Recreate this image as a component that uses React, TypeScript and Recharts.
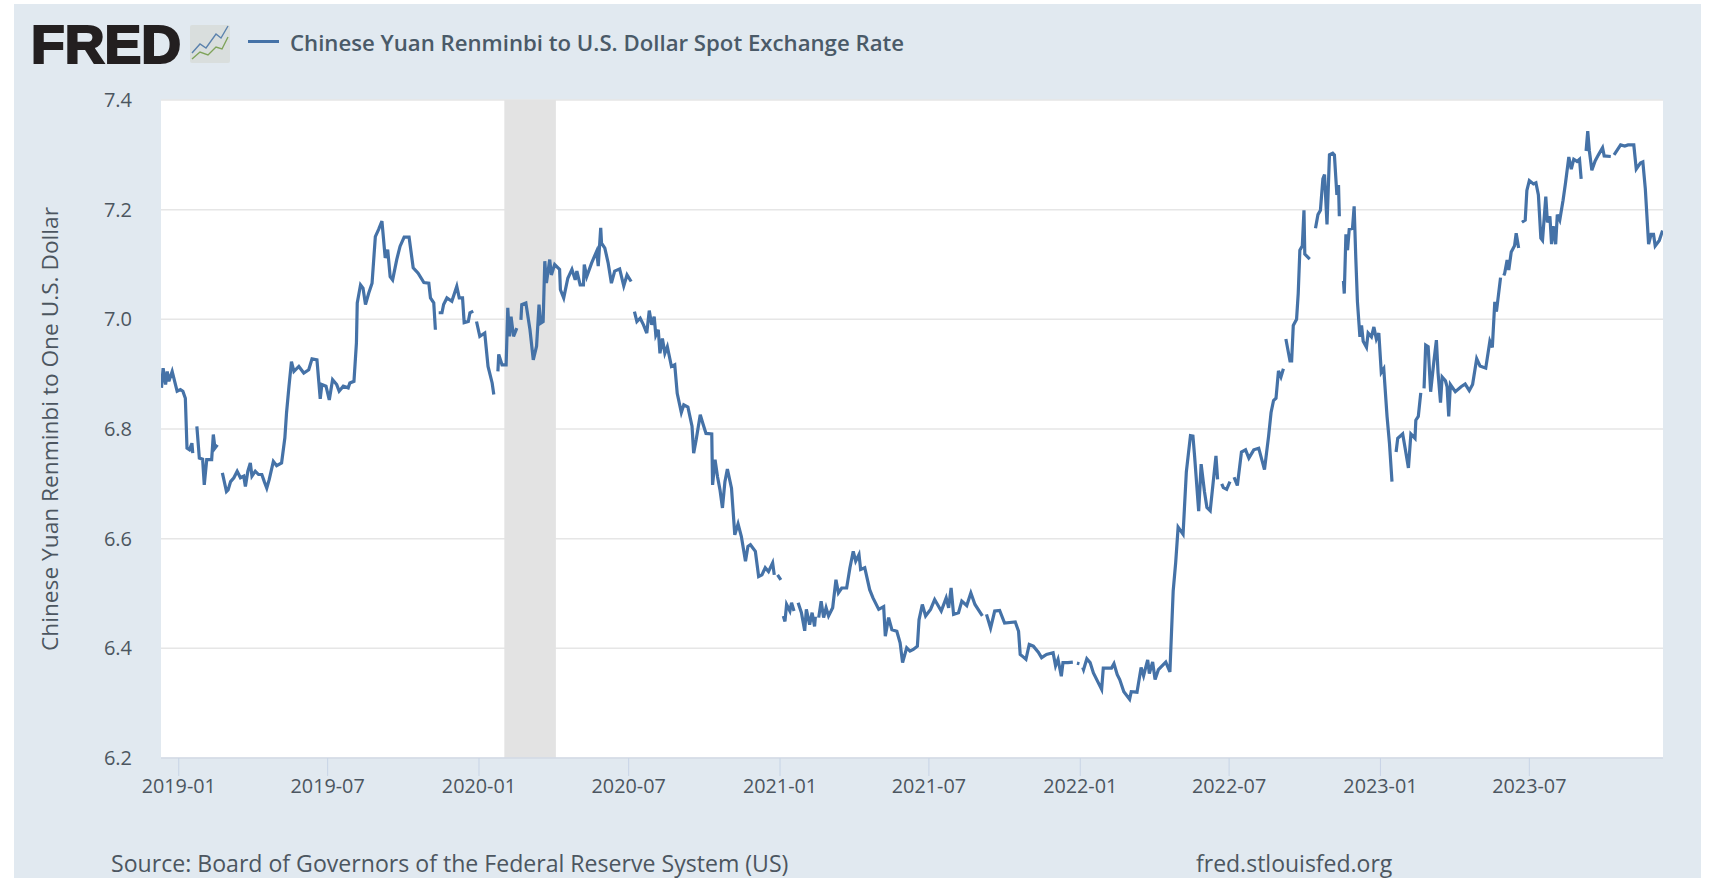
import { LineChart, Line, XAxis, YAxis, CartesianGrid, ReferenceArea } from "recharts";

// [days since 2019-01-01, yuan per dollar]; null rate = no quote that day
const rates2019: [number, number | null][] = [
  [-21, 6.875], [-19, 6.911], [-16, 6.881], [-14, 6.905], [-12, 6.887], [-8, 6.905], [-4, 6.881], [-2, 6.869],
  [2, 6.872], [5, 6.869], [8, 6.856], [10, 6.765], [13, 6.762], [16, 6.774], [17, 6.756], [20, null],
  [22, 6.805], [25, 6.747], [29, 6.745], [31, 6.698], [34, 6.744], [40, 6.744], [42, 6.79], [44, 6.765], [47, 6.771], [50, null],
  [53, 6.72], [58, 6.686], [60, 6.689], [63, 6.704], [67, 6.711], [71, 6.723], [75, 6.711], [79, 6.714], [81, 6.695],
  [84, 6.723], [87, 6.738], [89, 6.714], [93, 6.723], [97, 6.717], [101, 6.717], [104, 6.704], [107, 6.692], [110, 6.708],
  [115, 6.741], [119, 6.733], [125, 6.738], [129, 6.784], [131, 6.829], [134, 6.878], [137, 6.923], [140, 6.905],
  [146, 6.914], [152, 6.902], [158, 6.908], [162, 6.928], [168, 6.926], [172, 6.855], [174, 6.881], [179, 6.878],
  [183, 6.853], [187, 6.89], [192, 6.881], [195, 6.869], [200, 6.878], [206, 6.875], [208, 6.884], [213, 6.887],
  [216, 6.957], [217, 7.03], [221, 7.063], [224, 7.057], [227, 7.027], [231, 7.048], [235, 7.066], [239, 7.151],
  [243, 7.164], [247, 7.179], [251, 7.112], [254, 7.127], [257, 7.078], [260, 7.072], [265, 7.109], [269, 7.133],
  [274, 7.15], [280, 7.15], [285, 7.094], [291, 7.084], [298, 7.067], [304, 7.066], [306, 7.039], [310, 7.03], [312, 6.981], [314, null],
  [316, 7.012], [320, 7.012], [322, 7.027], [326, 7.039], [332, 7.033], [338, 7.06], [341, 7.039], [345, 7.039],
  [347, 6.994], [352, 6.996], [354, 7.012], [358, 7.015], [360, null], [362, 6.996],
];

const rates2020: [number, number | null][] = [
  [366, 6.969], [372, 6.975], [376, 6.914], [381, 6.884], [383, 6.863], [385, null], [388, 6.905], [389, 6.936],
  [393, 6.917], [398, 6.917], [400, 7.021], [402, 6.969], [404, 7.005], [407, 6.969], [411, 6.984], [413, null],
  [416, 6.999], [417, 7.027], [422, 7.03], [427, 6.981], [431, 6.926], [435, 6.951], [438, 7.027], [440, 6.993],
  [443, 6.996], [445, 7.106], [447, 7.066], [451, 7.109], [453, 7.081], [457, 7.1], [463, 7.091], [464, 7.054],
  [468, 7.039], [473, 7.075], [478, 7.091], [482, 7.072], [484, 7.088], [488, 7.063], [492, 7.063], [493, 7.1],
  [496, 7.078], [502, 7.103], [508, 7.124], [510, 7.097], [513, 7.167], [514, 7.139], [518, 7.13], [522, 7.103],
  [526, 7.066], [530, 7.088], [536, 7.092], [541, 7.061], [545, 7.081], [550, 7.069], [552, null],
  [554, 7.014], [557, 6.996], [561, 7.002], [565, 6.99], [569, 6.975], [572, 7.016], [575, 6.99], [578, 7.005],
  [580, 6.971], [583, 6.981], [585, 6.938], [588, 6.965], [591, 6.938], [594, 6.95], [599, 6.914], [603, 6.917],
  [606, 6.865], [611, 6.83], [614, 6.844], [619, 6.84], [624, 6.805], [626, 6.756], [629, 6.78], [634, 6.826],
  [637, 6.811], [641, 6.792], [648, 6.791], [649, 6.698], [652, 6.744], [655, 6.713], [658, 6.689], [661, 6.656],
  [664, 6.704], [667, 6.727], [672, 6.692], [676, 6.607], [680, 6.627], [684, 6.604], [689, 6.559], [692, 6.586],
  [695, 6.589], [701, 6.577], [705, 6.531], [709, 6.534], [713, 6.547], [717, 6.54], [722, 6.556], [724, 6.534], [726, null],
  [728, 6.534],
];

const rates2021: [number, number | null][] = [
  [732, 6.525], [733, null], [735, 6.459], [737, 6.449], [739, 6.48], [743, 6.468], [745, 6.483], [748, 6.468], [750, null],
  [753, 6.483], [757, 6.465], [761, 6.432], [763, 6.471], [767, 6.443], [770, 6.465], [773, 6.44], [774, 6.458], [776, null],
  [778, 6.456], [781, 6.486], [784, 6.456], [787, 6.474], [790, 6.459], [795, 6.474], [799, 6.525], [802, 6.501],
  [806, 6.51], [812, 6.51], [816, 6.547], [820, 6.577], [823, 6.559], [827, 6.571], [829, 6.544], [834, 6.547],
  [840, 6.507], [844, 6.492], [851, 6.471], [857, 6.476], [859, 6.422], [863, 6.456], [867, 6.434], [873, 6.431],
  [877, 6.41], [880, 6.374], [885, 6.401], [889, 6.395], [893, 6.398], [898, 6.404], [900, 6.452], [904, 6.48],
  [908, 6.459], [914, 6.471], [919, 6.489], [927, 6.468], [933, 6.492], [936, 6.474], [939, 6.51], [942, 6.462],
  [948, 6.465], [952, 6.486], [958, 6.478], [963, 6.501], [968, 6.48], [977, 6.459], [980, null], [982, 6.462],
  [987, 6.437], [992, 6.468], [998, 6.469], [1004, 6.446], [1017, 6.448], [1021, 6.431], [1023, 6.389], [1027, 6.384],
  [1030, 6.38], [1034, 6.407], [1039, 6.404], [1045, 6.393], [1049, 6.383], [1055, 6.389], [1063, 6.392], [1066, 6.368],
  [1069, 6.38], [1073, 6.349], [1075, 6.374], [1081, 6.374], [1087, 6.375], [1089, null], [1092, 6.373], [1095, 6.372],
];

const rates2022: [number, number | null][] = [
  [1097, null], [1099, 6.365], [1100, 6.361], [1104, 6.381], [1108, 6.374], [1112, 6.355], [1122, 6.325], [1124, 6.364], [1134, 6.364],
  [1137, 6.372], [1141, 6.352], [1144, 6.343], [1149, 6.321], [1156, 6.307], [1158, 6.321], [1165, 6.32], [1170, 6.365],
  [1173, 6.35], [1178, 6.379], [1180, 6.354], [1184, 6.375], [1187, 6.343], [1191, 6.361], [1200, 6.375], [1205, 6.357],
  [1209, 6.505], [1212, 6.556], [1215, 6.621], [1221, 6.608], [1225, 6.722], [1230, 6.788], [1233, 6.787], [1235, 6.751],
  [1240, 6.65], [1243, 6.736], [1247, 6.686], [1250, 6.657], [1254, 6.651], [1261, 6.751], [1263, 6.708], [1265, null],
  [1268, 6.7], [1270, 6.693], [1274, 6.69], [1278, 6.704], [1280, null], [1283, 6.712], [1287, 6.697], [1292, 6.758], [1297, 6.762],
  [1301, 6.747], [1307, 6.762], [1313, 6.765], [1320, 6.726], [1325, 6.787], [1328, 6.83], [1331, 6.852], [1334, 6.856],
  [1337, 6.906], [1340, 6.895], [1343, 6.91], [1345, null], [1346, 6.964], [1351, 6.924], [1353, 6.924], [1355, 6.989],
  [1359, 7.0], [1361, 7.047], [1363, 7.126], [1366, 7.134], [1368, 7.199], [1369, 7.119], [1375, 7.11], [1378, null],
  [1382, 7.166], [1385, 7.191], [1388, 7.199], [1391, 7.256], [1393, 7.264], [1396, 7.173], [1399, 7.3], [1403, 7.303],
  [1405, 7.3], [1408, 7.227], [1410, 7.245], [1411, 7.188], [1413, null], [1416, 7.07], [1417, 7.047], [1419, 7.155],
  [1421, 7.126], [1423, 7.164], [1427, 7.166], [1429, 7.206], [1431, 7.112], [1433, 7.032], [1436, 6.968], [1438, 6.989],
  [1440, 6.96], [1444, 6.949], [1446, 6.975], [1450, 6.968], [1453, 6.986], [1456, 6.964], [1459, 6.975],
];

const rates2023: [number, number | null][] = [
  [1462, 6.903], [1465, 6.91], [1469, 6.823], [1472, 6.773], [1475, 6.704], [1477, null], [1480, 6.758], [1482, 6.783],
  [1488, 6.791], [1491, 6.765], [1495, 6.729], [1498, 6.791], [1503, 6.783], [1504, 6.816], [1507, 6.823], [1510, 6.866], [1511, null],
  [1514, 6.874], [1516, 6.953], [1519, 6.95], [1522, 6.868], [1526, 6.924], [1529, 6.962], [1531, 6.903], [1534, 6.848],
  [1536, 6.895], [1540, 6.888], [1542, 6.877], [1544, 6.823], [1546, 6.881], [1552, 6.868], [1559, 6.877], [1564, 6.882],
  [1569, 6.87], [1573, 6.881], [1578, 6.928], [1582, 6.915], [1589, 6.911], [1594, 6.96], [1597, 6.949], [1600, 7.032],
  [1602, 7.014], [1607, 7.076], [1609, null], [1611, 7.08], [1612, 7.084], [1615, 7.108], [1617, 7.09], [1620, 7.123], [1624, 7.134],
  [1626, 7.157], [1629, 7.13], [1631, null], [1633, 7.177], [1637, 7.181], [1639, 7.235], [1642, 7.253], [1647, 7.247],
  [1650, 7.249], [1653, 7.227], [1656, 7.148], [1658, 7.144], [1662, 7.224], [1664, 7.177], [1667, 7.188], [1669, 7.137],
  [1671, 7.17], [1674, 7.137], [1676, 7.191], [1679, 7.181], [1683, 7.217], [1686, 7.249], [1690, 7.296], [1693, 7.274],
  [1696, 7.292], [1700, 7.288], [1703, 7.292], [1705, 7.256], [1707, null], [1711, 7.307], [1713, 7.343], [1715, 7.307],
  [1718, 7.272], [1722, 7.289], [1726, 7.3], [1731, 7.313], [1733, 7.298], [1741, 7.297], [1743, null], [1745, 7.3],
  [1753, 7.318], [1758, 7.316], [1762, 7.318], [1769, 7.318], [1772, 7.274], [1777, 7.285], [1780, 7.287], [1783, 7.238],
  [1787, 7.137], [1790, 7.155], [1793, 7.155], [1795, 7.134], [1800, 7.144], [1804, 7.162],
];

const tickDates = ["2019-01", "2019-07", "2020-01", "2020-07", "2021-01", "2021-07", "2022-01", "2022-07", "2023-01", "2023-07"];
const rateTicks = [6.2, 6.4, 6.6, 6.8, 7.0, 7.2, 7.4];

const DAY = 86400000;
const toTime = (day: number) => Date.UTC(2019, 0, 1) + day * DAY;

const data = [...rates2019, ...rates2020, ...rates2021, ...rates2022, ...rates2023].map(([day, rate]) => ({
  time: toTime(day),
  rate,
}));

const xTicks = tickDates.map((d) => Date.parse(d + "-01T00:00:00Z"));
const fmtMonth = (t: number) => new Date(t).toISOString().slice(0, 7);

const FONT = "'Open Sans', sans-serif";
const TEXT = "#4c5660";

function Header() {
  return (
    <>
      <svg width={240} height={70} style={{ position: "absolute", left: 28, top: 14 }}>
        <text x={3} y={49} fontFamily="'Liberation Sans', Arial, sans-serif" fontWeight={700} fontSize={53}
          fill="#231f20" stroke="#231f20" strokeWidth={2.2} textLength={150} lengthAdjust="spacingAndGlyphs">
          FRED
        </text>
        <rect x={162} y={11} width={40} height={38} rx={2} fill="#d9dedd" />
        <polyline points="164,39 172,30 178,34 188,20 193,24 200,12" fill="none" stroke="#5b82ad" strokeWidth={1.4} />
        <polyline points="164,45 172,38 180,41 188,33 194,35 200,23" fill="none" stroke="#7fa35a" strokeWidth={1.4} />
      </svg>
      <div style={{ position: "absolute", left: 248, top: 40, width: 31, height: 3, background: "#4572a7" }} />
      <div style={{ position: "absolute", left: 290, top: 27, fontFamily: FONT, fontSize: 22.2, fontWeight: 600, color: "#4a5a68", whiteSpace: "nowrap" }}>
        Chinese Yuan Renminbi to U.S. Dollar Spot Exchange Rate
      </div>
    </>
  );
}

export default function App() {
  return (
    <div style={{ position: "absolute", left: 0, top: 0, width: 1714, height: 878, overflow: "hidden", background: "#fff" }}>
      <div style={{ position: "absolute", left: 14, top: 4, width: 1687, height: 874, background: "#e1e9f0" }} />
      <Header />
      <div style={{ position: "absolute", left: 0, top: 0 }}>
        <LineChart width={1714} height={878} data={data} margin={{ top: 100, right: 51, bottom: 60, left: 0 }}>
          <CartesianGrid vertical={false} stroke="#e6e6e6" strokeWidth={1.5} fill="#fff" />
          <XAxis
            dataKey="time"
            type="number"
            domain={[toTime(-21.6), toTime(1804.5)]}
            ticks={xTicks}
            tickFormatter={fmtMonth}
            allowDataOverflow
            height={60}
            tickSize={18}
            tickMargin={3}
            stroke="#c8d4e6"
            tick={{ fill: TEXT, fontSize: 19.8, fontFamily: FONT }}
          />
          <YAxis
            type="number"
            domain={[6.2, 7.4]}
            ticks={rateTicks}
            tickFormatter={(v: number) => v.toFixed(1)}
            width={161}
            tickSize={0}
            tickMargin={29}
            axisLine={false}
            tick={{ fill: TEXT, fontSize: 20, fontFamily: FONT }}
            label={{
              value: "Chinese Yuan Renminbi to One U.S. Dollar",
              angle: -90,
              position: "insideLeft",
              dx: 45,
              dy: 222,
              style: { fill: TEXT, fontSize: 22.7, fontFamily: FONT },
            }}
          />
          <ReferenceArea x1={toTime(395.8)} x2={toTime(458.5)} fill="#e3e3e3" fillOpacity={1} stroke="none" />
          <Line dataKey="rate" stroke="#4572a7" strokeWidth={3.2} dot={false} connectNulls={false} isAnimationActive={false} />
        </LineChart>
      </div>
      <div style={{ position: "absolute", left: 111, top: 847, fontFamily: FONT, fontSize: 23.1, color: TEXT, whiteSpace: "nowrap" }}>
        Source: Board of Governors of the Federal Reserve System (US)
      </div>
      <div style={{ position: "absolute", left: 1196, top: 847, fontFamily: FONT, fontSize: 23, color: TEXT, whiteSpace: "nowrap" }}>
        fred.stlouisfed.org
      </div>
    </div>
  );
}
